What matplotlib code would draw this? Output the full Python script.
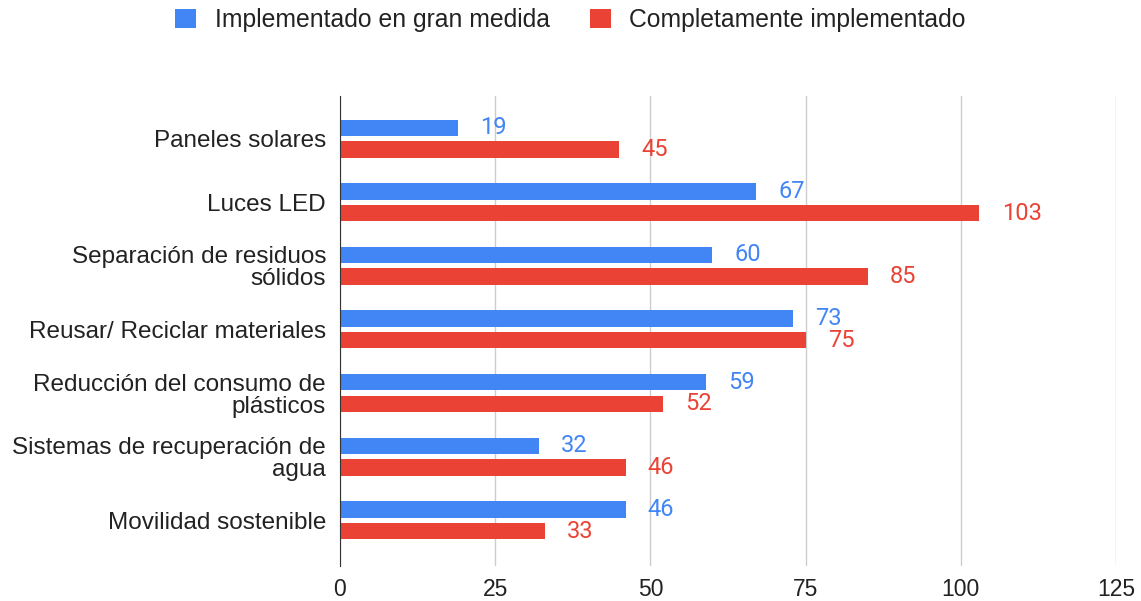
import matplotlib.pyplot as plt
import numpy as np

categories = ["Paneles solares", "Luces LED", "Separación de residuos\nsólidos",
              "Reusar/ Reciclar materiales", "Reducción del consumo de\nplásticos",
              "Sistemas de recuperación de\nagua", "Movilidad sostenible"]
gran_medida = [19, 67, 60, 73, 59, 32, 46]
completo = [45, 103, 85, 75, 52, 46, 33]
series_names = ["Implementado en gran medida", "Completamente implementado"]
xticks = [0, 25, 50, 75, 100, 125]

blue = "#4285F4"
red = "#EA4335"

fig = plt.figure(figsize=(11.41, 6.01), dpi=100)
ax = fig.add_axes([340 / 1141, 1 - 566 / 601, (1116 - 340) / 1141, (566 - 96) / 601])

y = np.arange(len(categories))
h = 0.26
off = 0.17
ax.barh(y - off, gran_medida, height=h, color=blue, zorder=3, label=series_names[0])
ax.barh(y + off, completo, height=h, color=red, zorder=3, label=series_names[1])

for i in range(len(categories)):
    ax.text(gran_medida[i] + 3.6, y[i] - off, str(gran_medida[i]), color=blue,
            va="center", ha="left", fontsize=17, family="Roboto")
    ax.text(completo[i] + 3.6, y[i] + off, str(completo[i]), color=red,
            va="center", ha="left", fontsize=17, family="Roboto")

ax.set_xlim(0, 125)
ax.set_ylim(len(categories) - 1 + 0.72, -0.67)
ax.set_xticks(xticks)
ax.set_xticklabels([str(t) for t in xticks], fontsize=16.5, family="Liberation Sans", color="#222222")
ax.set_yticks(y)
ax.set_yticklabels(categories, fontsize=17.5, family="Liberation Sans", color="#222222",
                   linespacing=1.0)
ax.tick_params(axis="y", length=0, pad=10)
ax.tick_params(axis="x", length=0, pad=9)

ax.grid(axis="x", color="#cccccc", linewidth=1, zorder=0)
for s in ["top", "right", "bottom"]:
    ax.spines[s].set_visible(False)
ax.spines["left"].set_color("#333333")
ax.spines["left"].set_zorder(4)

leg = fig.legend(loc="center", bbox_to_anchor=(0.5, 1 - 20 / 601), ncol=2, frameon=False,
                 prop={"family": "Liberation Sans", "size": 17.8}, handlelength=0.85,
                 handleheight=0.85, columnspacing=1.6, handletextpad=0.75)
for t in leg.get_texts():
    t.set_color("#222222")

fig.savefig("out.png", dpi=100)
